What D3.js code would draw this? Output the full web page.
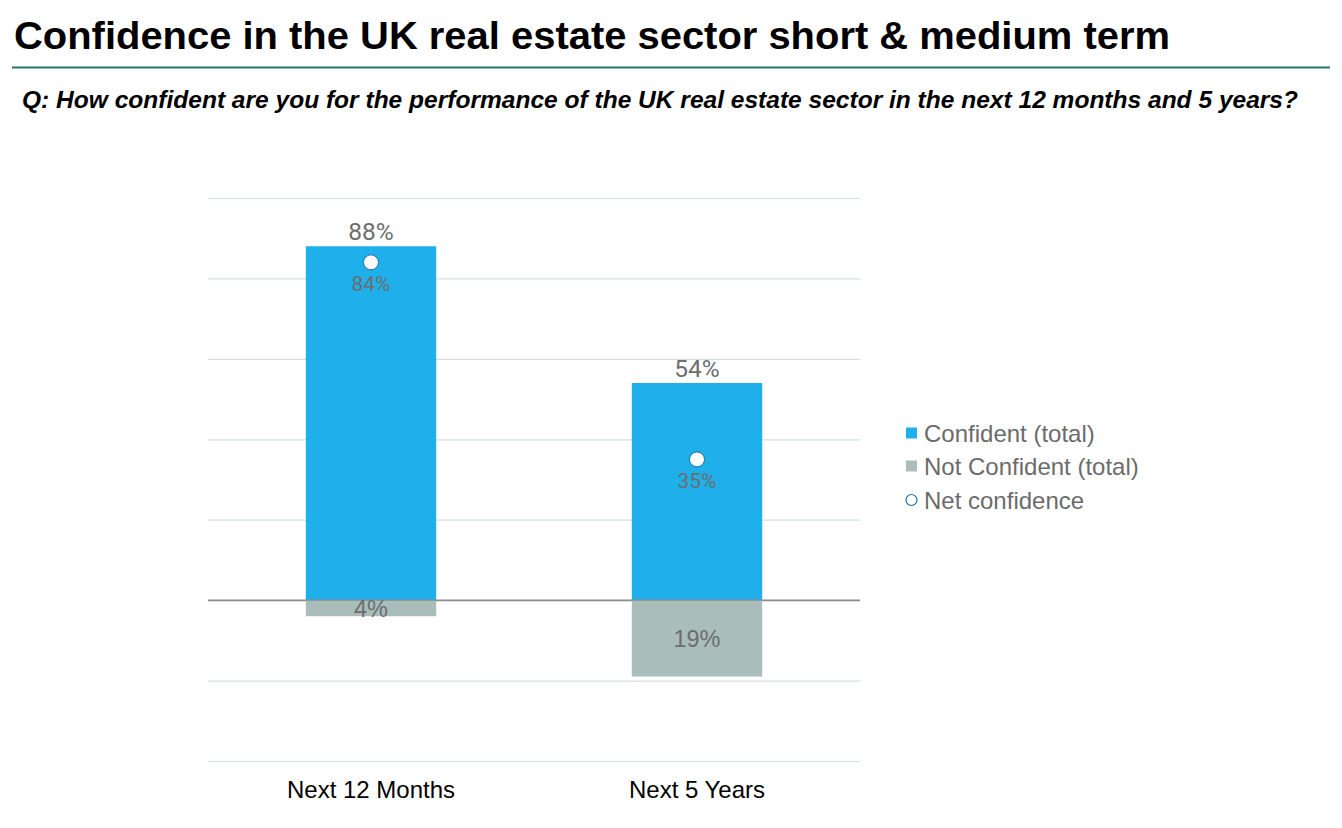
<!DOCTYPE html>
<html><head><meta charset="utf-8">
<script src="https://cdn.jsdelivr.net/npm/d3@7"></script>
<style>body{margin:0;background:#fff}svg{display:block}</style>
</head><body>
<svg id="c" width="1342" height="828"></svg>
<script>
const categories = ["Next 12 Months", "Next 5 Years"];
const confident = [88, 54];
const notConfident = [4, 19];
const netConfidence = [84, 35];
const yTicks = [-40, -20, 0, 20, 40, 60, 80, 100];
const legendLabels = ["Confident (total)", "Not Confident (total)", "Net confidence"];

const svg = d3.select("#c");
const plot = {left: 208, right: 860, top: 198, bottom: 761};
const sans = "Liberation Sans, Arial, sans-serif";

svg.append("text").attr("x", 14).attr("y", 49)
  .attr("font-family", sans).attr("font-weight", "bold")
  .attr("font-size", 39).attr("fill", "#000")
  .attr("textLength", 1156).attr("lengthAdjust", "spacingAndGlyphs")
  .text("Confidence in the UK real estate sector short & medium term");
svg.append("line").attr("x1", 12).attr("x2", 1330).attr("y1", 67.5).attr("y2", 67.5)
  .attr("stroke", "#1f7a6c").attr("stroke-width", 2);
svg.append("text").attr("x", 22).attr("y", 108)
  .attr("font-family", sans).attr("font-weight", "bold").attr("font-style", "italic")
  .attr("font-size", 23).attr("fill", "#000")
  .attr("textLength", 1276).attr("lengthAdjust", "spacingAndGlyphs")
  .text("Q: How confident are you for the performance of the UK real estate sector in the next 12 months and 5 years?");

const x = d3.scaleBand().domain(categories).range([plot.left, plot.right]).paddingInner(0.6).paddingOuter(0.3);
const y = d3.scaleLinear().domain([-40, 100]).range([plot.bottom, plot.top]);

// gridlines
const grid = svg.append("g").attr("transform", `translate(${plot.left},0)`)
  .call(d3.axisLeft(y).tickValues(yTicks).tickSize(-(plot.right - plot.left)).tickFormat(""));
grid.select(".domain").remove();
grid.selectAll(".tick line").attr("stroke", d => d === 0 ? "#8c8c8c" : "#d3e0de").attr("stroke-width", d => d === 0 ? 1.3 : 1.2);

// bars
svg.append("g").selectAll("rect").data(categories).join("rect")
  .attr("x", d => x(d)).attr("width", x.bandwidth())
  .attr("y", (d, i) => y(confident[i])).attr("height", (d, i) => y(0) - y(confident[i]))
  .attr("fill", "#1fb0eb");
svg.append("g").selectAll("rect").data(categories).join("rect")
  .attr("x", d => x(d)).attr("width", x.bandwidth())
  .attr("y", y(0)).attr("height", (d, i) => y(-notConfident[i]) - y(0))
  .attr("fill", "#a9bdbb");
svg.append("line").attr("x1", plot.left).attr("x2", plot.right).attr("y1", y(0)).attr("y2", y(0))
  .attr("stroke", "#8c8c8c").attr("stroke-width", 1.3);

const lblFont = "Roboto, Liberation Sans, Arial, sans-serif";
svg.append("g").selectAll("text").data(categories).join("text")
  .attr("x", d => x(d) + x.bandwidth() / 2).attr("y", (d, i) => y(confident[i]) - 6)
  .attr("text-anchor", "middle").attr("font-family", lblFont).attr("font-size", 24.5).attr("fill", "#6d6d6d")
  .text((d, i) => confident[i] + "%");
svg.append("g").selectAll("text").data(categories).join("text")
  .attr("x", d => x(d) + x.bandwidth() / 2).attr("y", (d, i) => (y(0) + y(-notConfident[i])) / 2)
  .attr("dy", "0.36em")
  .attr("text-anchor", "middle").attr("font-family", sans).attr("font-size", 23.5).attr("fill", "#6d6d6d")
  .text((d, i) => notConfident[i] + "%");
svg.append("g").selectAll("circle").data(categories).join("circle")
  .attr("cx", d => x(d) + x.bandwidth() / 2).attr("cy", (d, i) => y(netConfidence[i]))
  .attr("r", 7.5).attr("fill", "#fff").attr("stroke", "#1a6e9c").attr("stroke-width", 1);
svg.append("g").selectAll("text").data(categories).join("text")
  .attr("x", d => x(d) + x.bandwidth() / 2).attr("y", (d, i) => y(netConfidence[i]) + 29)
  .attr("text-anchor", "middle").attr("font-family", lblFont).attr("font-size", 21).attr("fill", "#6d6d6d")
  .text((d, i) => netConfidence[i] + "%");

const xa = svg.append("g").attr("transform", `translate(0,${plot.bottom})`)
  .call(d3.axisBottom(x).tickSize(0).tickPadding(0));
xa.select(".domain").remove();
xa.selectAll("text").attr("y", 37).attr("dy", 0).attr("font-family", sans)
  .attr("font-size", 24).attr("fill", "#000");

const lg = svg.append("g").attr("transform", "translate(906,0)");
const ly = [433, 466, 500];
legendLabels.forEach((t, i) => {
  if (i < 2) lg.append("rect").attr("x", 0).attr("y", ly[i] - 5.5).attr("width", 11).attr("height", 11)
    .attr("fill", i === 0 ? "#1fb0eb" : "#a9bdbb");
  else lg.append("circle").attr("cx", 5.5).attr("cy", ly[i]).attr("r", 5.5).attr("fill", "#fff").attr("stroke", "#1a6e9c").attr("stroke-width", 1.2);
  lg.append("text").attr("x", 18).attr("y", ly[i]).attr("dy", "0.36em")
    .attr("font-family", sans).attr("font-size", 24).attr("fill", "#6b6b6b").text(t);
});
</script>
</body></html>
